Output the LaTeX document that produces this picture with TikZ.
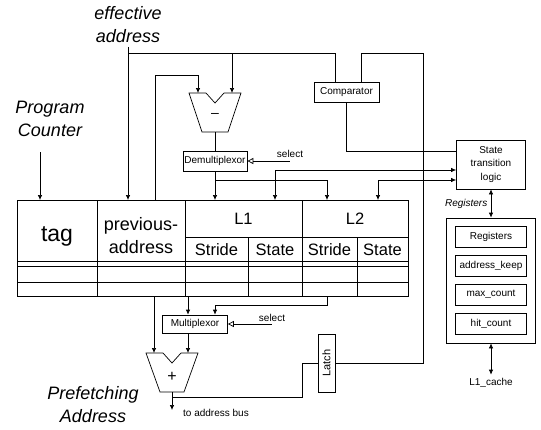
\documentclass[tikz,border=0pt]{standalone}
\usepackage{fontspec}
\usepackage{graphicx}
\setmainfont{Liberation Sans}
\usetikzlibrary{arrows.meta}

\begin{document}
\begin{tikzpicture}[x=1pt, y=-1pt, line width=0.7pt,
    box/.style={draw, inner sep=1pt, font=\fontsize{10}{13.5}\selectfont},
    lbl/.style={align=center, font=\fontsize{18}{23}\selectfont\itshape},
    cell/.style={font=\fontsize{16.5}{20}\selectfont},
    small/.style={font=\fontsize{10}{12}\selectfont},
    >={Latex[length=5pt,width=4.5pt]},
    sel/.style={{Triangle[open,length=6pt,width=6pt]}-}]
    \useasboundingbox (0,0) rectangle (541,429);

    % Labels
    \node[lbl] (ea) at (128,25) {effective\\address};
    \node[lbl] (pc) at (50,119) {Program\\Counter};
    \node[lbl] (pf) at (93,405) {Prefetching\\Address};

    % Table
    \draw (17,200) rectangle (408,296);
    \foreach \x in {97,185,302} \draw (\x,200) -- (\x,296);
    \draw (185,237) -- (408,237);
    \foreach \x in {248,357} \draw (\x,237) -- (\x,296);
    \foreach \y in {261,266,282} \draw (17,\y) -- (408,\y);
    \node[font=\fontsize{23}{26}\selectfont] (tag) at (57,236) {tag};
    \node[align=center, font=\fontsize{18}{23}\selectfont] (prev) at (141,236) {previous-\\address};
    \node[cell] (l1) at (243.5,219) {L1};
    \node[cell] (l2) at (355,219) {L2};
    \node[cell] (s1) at (216.5,250) {Stride};
    \node[cell] (t1) at (275,250) {State};
    \node[cell] (s2) at (329.5,250) {Stride};
    \node[cell] (t2) at (382.5,250) {State};

    % Subtractor and adder
    \draw (189,93) -- (206,93) -- (215,103) -- (224,93) -- (241,93) -- (228,132) -- (202,132) -- cycle;
    \node[font=\fontsize{14}{14}\selectfont] (minus) at (215,115) {--};
    \draw (146,353) -- (163,353) -- (172,363) -- (181,353) -- (198,353) -- (184,392) -- (160,392) -- cycle;
    \node[font=\fontsize{16}{16}\selectfont] (plus) at (172,377) {+};

    % Boxes
    \node[box, minimum width=65pt, minimum height=20pt] (comp) at (346.5,92) {Comparator};
    \node[box, minimum width=64pt, minimum height=20pt] (demux) at (215,161) {Demultiplexor};
    \node[box, minimum width=65pt, minimum height=18pt] (mux) at (195,324) {Multiplexor};
    \node[box, align=center, minimum width=69pt, minimum height=49pt] (stl) at (491,164.5) {State\\transition\\logic};
    \node[box, minimum width=17pt, minimum height=58pt, font=\fontsize{11}{13}\selectfont] (latch) at (326.5,363) {\rotatebox{90}{Latch}};
    \node[draw, minimum width=89pt, minimum height=125pt] (regs) at (491,280.5) {};
    \node[box, minimum width=71pt, minimum height=21pt] (rg1) at (491,236.5) {Registers};
    \node[box, minimum width=71pt, minimum height=21pt] (rg2) at (491,266) {address\_keep};
    \node[box, minimum width=71pt, minimum height=21pt] (rg3) at (491,294.5) {max\_count};
    \node[box, minimum width=71pt, minimum height=21pt] (rg4) at (491,324) {hit\_count};
    \node[small] (l1c) at (491,383) {L1\_cache};
    \node[small, anchor=south] (dsel) at (290,161) {select};
    \node[small, anchor=south] (msel) at (272,325) {select};
    \node[small] (tab) at (216,413) {to address bus};

    % Points
    \coordinate (tt) at (0,200);
    \coordinate (eaj) at (128,53);
    \coordinate (pa) at (155,75);
    \coordinate (pcin) at (40,152);
    \coordinate (subL) at (198,93);
    \coordinate (subR) at (232,93);
    \coordinate (subO) at (215,132);
    \coordinate (addL) at (154,353);
    \coordinate (addR) at (188,353);
    \coordinate (addO) at (172,392);
    \coordinate (c2) at (275,200);
    \coordinate (c3) at (327,200);
    \coordinate (c4) at (378,200);
    \coordinate (dj) at (215,180);
    \coordinate (in1) at (0,151);
    \coordinate (in2) at (0,170);
    \coordinate (in3) at (0,180);
    \coordinate (lj) at (423,53);
    \coordinate (aj) at (172,397);
    \coordinate (lk) at (302,397);
    \coordinate (bus) at (172,410);
    \coordinate (bp) at (154,296);
    \coordinate (b1) at (188,296);
    \coordinate (b3) at (327,296);
    \coordinate (mj) at (215,305);

    % Edges
    \draw[->] (eaj |- ea.south) -- (eaj |- tt);
    \draw (eaj) -| ([xshift=-11.5pt]comp.north);
    \draw[->] (subR |- eaj) -- (subR);
    \draw[->] (pa |- tt) -- (pa) -| (subL);
    \draw[->] (pcin) -- (pcin |- tt);
    \draw (subO) -- (demux.north);
    \draw[sel] (demux.east) -- (demux.east -| dsel.south);
    \draw[->] (demux.south) -- (demux.south |- tt);
    \draw[->] (dj) -| (c3);
    \draw[<->] (c2) |- (stl.west |- in2);
    \draw[<->] (c4) |- (stl.west |- in3);
    \draw (comp.south) |- (stl.west |- in1);
    \draw (latch.east) -| (lj) -| ([xshift=14.5pt]comp.north);
    \draw (aj) -- (lk) |- (latch.west);
    \draw[->] (addO) -- (bus);
    \draw[->] (bp) -- (addL);
    \draw[->] (b1) -- (b1 |- mux.north);
    \draw[->] (b3) |- (mj) -- (mj |- mux.north);
    \draw[->] (mux.south -| b1) -- (addR);
    \draw[sel] (mux.east) -- (mux.east -| msel.south);
    \draw[<->] (stl.south) -- (regs.north) node[midway, left, small, font=\fontsize{10}{12}\selectfont\itshape] (rlbl) {Registers};
    \draw[<->] (regs.south) -- (l1c.north);
\end{tikzpicture}
\end{document}
